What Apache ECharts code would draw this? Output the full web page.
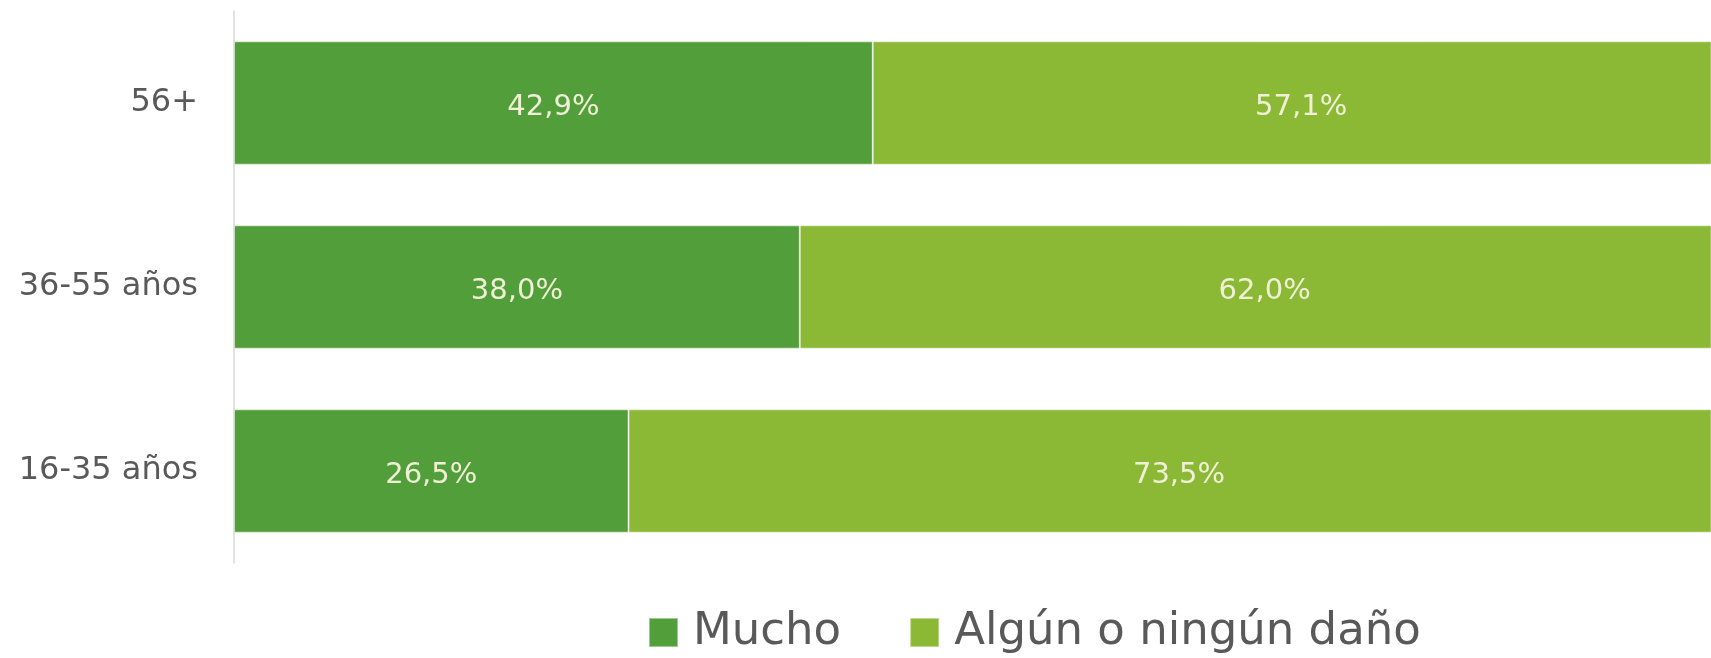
<!DOCTYPE html>
<html>
<head>
<meta charset="utf-8">
<script src="https://cdn.jsdelivr.net/npm/echarts@6/dist/echarts.min.js"></script>
<style>
html,body{margin:0;padding:0;background:#fff;overflow:hidden;}
#chart{width:1711px;height:658px;}
</style>
</head>
<body>
<div id="chart"></div>
<script>
const categories = ['16-35 años', '36-55 años', '56+'];
const seriesNames = ['Mucho', 'Algún o ningún daño'];
const muchoValues = [26.5, 38.0, 42.9];
const algunValues = [73.5, 62.0, 57.1];

const chart = echarts.init(document.getElementById('chart'));
const fmt = p => p.value.toFixed(1).replace('.', ',') + '%';
const labelBase = {
  show: true, position: 'inside', formatter: fmt,
  color: '#F0F0D6', fontSize: 29, fontFamily: 'DejaVu Sans'
};
chart.setOption({
  animation: false,
  grid: { left: 234, right: 0, top: 11, bottom: 95, containLabel: false },
  legend: {
    left: 643, top: 605,
    itemWidth: 29, itemHeight: 29, itemGap: 68,
    icon: 'rect',
    textStyle: { fontSize: 45, color: '#595959', fontFamily: 'DejaVu Sans', padding: [0, 0, 0, 10] },
    data: seriesNames
  },
  xAxis: { type: 'value', min: 0, max: 99.2, show: false },
  yAxis: {
    type: 'category', data: categories,
    axisLine: { show: true, lineStyle: { color: '#d9d9d9', width: 1.5 } },
    axisTick: { show: false },
    axisLabel: { fontSize: 32, color: '#595959', fontFamily: 'DejaVu Sans', margin: 36, padding: [7, 0, 0, 0] }
  },
  series: [
    { name: seriesNames[0], type: 'bar', stack: 'a', data: muchoValues, barCategoryGap: '33%',
      itemStyle: { color: '#529E3A', borderColor: 'rgba(255,255,255,0.45)', borderWidth: 1 },
      label: Object.assign({}, labelBase, { offset: [0, 4] }) },
    { name: seriesNames[1], type: 'bar', stack: 'a', data: algunValues, barCategoryGap: '33%',
      itemStyle: { color: '#8BB835', borderColor: 'rgba(255,255,255,0.45)', borderWidth: 1 },
      label: Object.assign({}, labelBase, { offset: [9, 4] }) }
  ]
});
</script>
</body>
</html>
